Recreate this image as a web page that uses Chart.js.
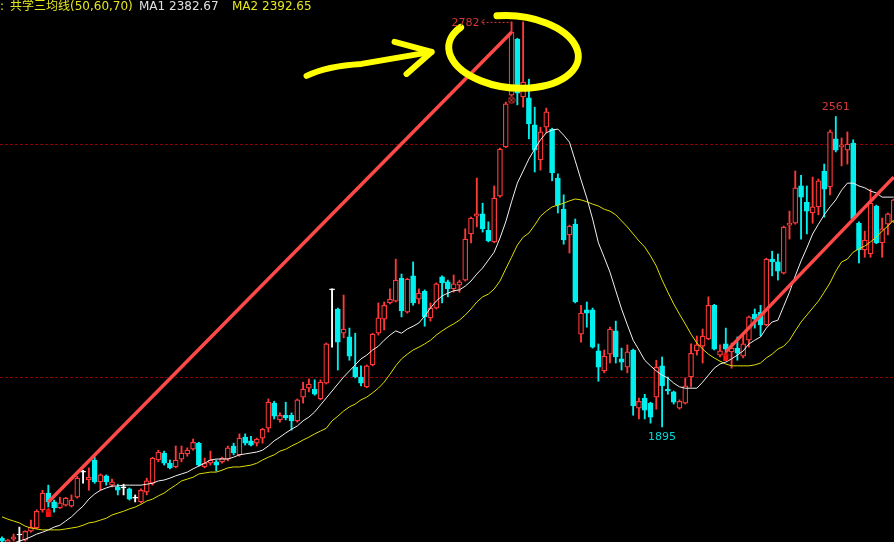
<!DOCTYPE html>
<html>
<head>
<meta charset="utf-8">
<title>共学三均线</title>
<script src="https://cdn.jsdelivr.net/npm/chart.js@4.4.1/dist/chart.umd.min.js"></script>
<style>
  html, body { margin: 0; padding: 0; background: #000; overflow: hidden; }
  #box { width: 894px; height: 542px; }
</style>
</head>
<body>
<div id="box"><canvas id="kline" width="894" height="542"></canvas></div>
<script>
// K线数据 (从图上读出来的, 大约值)
const opens = [1656,1648,1654,1663,1652,1671,1678,1717,1753,1734,
  1721,1727,1725,1744,1798,1781,1824,1777,1790,1770,
  1766,1764,1762,1742,1734,1755,1774,1824,1839,1817,
  1809,1826,1837,1847,1860,1809,1817,1820,1820,1826,
  1854,1835,1873,1865,1860,1871,1892,1946,1910,1920,
  1920,1908,1959,1978,1976,1955,1989,2189,2148,2096,
  2088,2023,2002,1981,2028,2096,2126,2161,2165,2214,
  2141,2219,2169,2186,2129,2150,2217,2206,2191,2199,
  2210,2309,2347,2352,2317,2292,2390,2496,2607,2727,
  2603,2601,2543,2468,2538,2534,2429,2362,2307,2330,
  2094,2146,2146,2058,2015,2051,2101,2041,2023,2060,
  1935,1957,1946,1959,2026,1976,1970,1935,1946,2002,
  2058,2068,2084,2156,2049,2073,2056,2064,2047,2081,
  2137,2141,2114,2255,2249,2225,2328,2332,2412,2377,
  2354,2367,2444,2410,2513,2496,2489,2504,2332,2275,
  2266,2369,2290,2330,2335];
const highs = [1659,1654,1665,1680,1672,1695,1717,1759,1770,1738,
  1744,1744,1749,1789,1802,1807,1830,1794,1792,1783,
  1772,1772,1764,1749,1762,1785,1830,1845,1843,1824,
  1854,1854,1850,1869,1862,1828,1843,1824,1830,1854,
  1860,1880,1880,1875,1871,1892,1955,1950,1925,1948,
  1925,1955,1991,1998,1996,1996,2075,2191,2150,2178,
  2107,2096,2026,2028,2096,2161,2163,2191,2255,2223,
  2214,2249,2191,2189,2161,2204,2219,2210,2221,2210,
  2320,2345,2429,2375,2335,2412,2493,2592,2764,2729,
  2764,2641,2581,2538,2579,2536,2438,2393,2328,2341,
  2156,2163,2150,2073,2060,2109,2122,2064,2071,2062,
  1957,1965,1948,2038,2045,2002,1972,1953,2000,2073,
  2090,2105,2174,2158,2071,2107,2075,2088,2092,2133,
  2148,2156,2257,2272,2266,2326,2358,2444,2435,2412,
  2431,2427,2459,2532,2561,2515,2528,2511,2335,2315,
  2405,2371,2343,2354,2384];
const lows = [1648,1646,1650,1641,1650,1669,1676,1712,1723,1712,
  1720,1725,1723,1742,1774,1759,1774,1759,1770,1766,
  1749,1749,1738,1734,1732,1749,1770,1820,1813,1805,
  1807,1820,1832,1845,1811,1807,1813,1800,1817,1822,
  1835,1832,1856,1854,1854,1860,1884,1912,1905,1910,
  1888,1905,1946,1970,1963,1953,1987,2066,2017,2086,
  2038,2000,1983,1979,2026,2092,2103,2159,2163,2131,
  2139,2156,2159,2111,2122,2148,2161,2174,2184,2184,
  2208,2290,2324,2313,2292,2290,2388,2494,2605,2586,
  2581,2513,2442,2446,2526,2423,2354,2287,2268,2161,
  2077,2109,2064,1993,2011,2032,2032,2017,2011,1920,
  1912,1912,1903,1933,1895,1965,1944,1933,1944,1981,
  2049,2032,2082,2060,2045,2053,2021,2038,2043,2066,
  2107,2090,2112,2219,2210,2223,2298,2330,2298,2309,
  2332,2350,2345,2393,2485,2455,2459,2339,2247,2259,
  2259,2288,2259,2307,2333];
const closes = [1650,1652,1659,1663,1671,1680,1714,1753,1734,1721,
  1732,1742,1738,1785,1798,1787,1777,1792,1777,1777,
  1759,1764,1740,1742,1759,1779,1828,1841,1817,1807,
  1824,1839,1845,1862,1813,1817,1824,1813,1828,1850,
  1839,1871,1860,1856,1869,1890,1948,1918,1920,1914,
  1908,1953,1976,1987,1965,1991,2073,2189,2077,2105,
  2047,2002,1989,2026,2094,2129,2156,2169,2210,2144,
  2212,2161,2182,2131,2150,2202,2204,2191,2202,2206,
  2298,2343,2352,2320,2294,2386,2491,2588,2742,2611,
  2635,2545,2489,2528,2571,2440,2371,2296,2326,2163,
  2139,2139,2066,2023,2047,2105,2045,2034,2056,1940,
  1950,1931,1916,2023,1983,1972,1948,1950,1983,2053,
  2071,2090,2156,2062,2058,2062,2064,2053,2073,2131,
  2126,2114,2255,2249,2229,2324,2332,2408,2388,2358,
  2367,2423,2405,2528,2489,2500,2502,2341,2275,2296,
  2375,2290,2320,2352,2382];

// 两条均线 (白 = MA1, 黄 = MA2)
const ma1 = [1637,1641,1646,1650,1654,1659,1665,1669,1674,1680,
  1684,1693,1702,1714,1725,1740,1751,1759,1764,1768,
  1768,1770,1770,1770,1770,1772,1774,1779,1781,1785,
  1790,1794,1798,1805,1811,1817,1824,1826,1826,1826,
  1830,1835,1837,1839,1841,1845,1854,1865,1873,1882,
  1890,1897,1908,1916,1927,1942,1957,1972,1987,2002,
  2015,2028,2041,2049,2060,2068,2081,2092,2101,2096,
  2105,2111,2118,2133,2150,2165,2176,2182,2187,2189,
  2197,2208,2223,2236,2253,2270,2300,2335,2378,2418,
  2444,2470,2491,2511,2526,2532,2534,2521,2506,2466,
  2425,2386,2341,2290,2259,2227,2187,2148,2114,2081,
  2060,2038,2026,2015,2006,2000,1989,1981,1978,1978,
  1978,1991,2006,2021,2030,2034,2041,2049,2058,2073,
  2081,2088,2107,2120,2124,2154,2184,2219,2251,2279,
  2309,2330,2350,2367,2382,2403,2418,2418,2412,2408,
  2401,2397,2388,2388,2388];
const ma2 = [1702,1697,1693,1689,1682,1678,1676,1674,1674,1674,
  1674,1676,1678,1680,1684,1689,1691,1695,1699,1706,
  1710,1714,1719,1723,1729,1736,1740,1747,1753,1762,
  1770,1779,1783,1787,1794,1796,1798,1798,1802,1807,
  1809,1809,1811,1813,1817,1824,1830,1835,1843,1847,
  1854,1860,1867,1873,1880,1886,1892,1908,1918,1929,
  1938,1944,1953,1959,1968,1978,1991,2008,2026,2041,
  2051,2060,2066,2073,2081,2092,2101,2109,2116,2124,
  2135,2148,2163,2174,2180,2191,2208,2234,2259,2285,
  2302,2311,2328,2347,2358,2367,2371,2375,2380,2384,
  2382,2378,2373,2369,2362,2358,2350,2337,2324,2309,
  2294,2281,2262,2240,2210,2184,2159,2137,2116,2094,
  2075,2062,2051,2043,2036,2030,2026,2026,2026,2026,
  2028,2032,2043,2051,2062,2068,2081,2101,2120,2135,
  2150,2165,2184,2204,2229,2249,2255,2270,2277,2283,
  2292,2302,2315,2326,2339];

const gridLevels = [2000, 2500];

// 手画的趋势线
const trend1Idx = [8, 88];
const trend1Val = [1734, 2742];
const trend2Idx = [125, 154];
const trend2Val = [2056, 2431];

// 买点标记 + 顶部的圈叉
const signalIdx = [8, 125];
const signalVal = [1712, 2047];
const peakMarkIdx = [88];
const peakMarkVal = [2596];

// 高低点标注
const peakIdx = 88, peakText = '2782';
const highIdx = 144, highText = '2561';
const lowIdx = 114, lowText = '1895';

const UP = '#ff3838';
const DOWN = '#00f0f0';
const FLAT = '#ffffff';
const YELLOW = '#e6e61e';

function candleColor(i) {
    if (closes[i] > opens[i]) return UP;
    if (closes[i] < opens[i]) return DOWN;
    return FLAT;
}

function makeHouse(color) {
    const c = document.createElement('canvas');
    c.width = 7; c.height = 9;
    const g = c.getContext('2d');
    g.fillStyle = color;
    g.beginPath();
    g.moveTo(3.5, 0); g.lineTo(7, 3.5); g.lineTo(0, 3.5);
    g.closePath(); g.fill();
    g.fillRect(1, 3.5, 5, 5.5);
    return c;
}

function makeCircleX(color) {
    const c = document.createElement('canvas');
    c.width = 8; c.height = 8;
    const g = c.getContext('2d');
    g.strokeStyle = color;
    g.lineWidth = 1;
    g.beginPath(); g.arc(4, 4, 3.2, 0, Math.PI * 2); g.stroke();
    g.beginPath();
    g.moveTo(2, 2); g.lineTo(6, 6);
    g.moveTo(6, 2); g.lineTo(2, 6);
    g.stroke();
    return c;
}

const idx = opens.map((_, i) => i);

// textes + gribouillis jaune
const notesPlugin = {
    id: 'notes',
    afterDatasetsDraw(chart) {
        const { ctx, scales: { x, y } } = chart;
        ctx.save();

        const px = x.getPixelForValue(peakIdx);
        const py = y.getPixelForValue(highs[peakIdx]);

        // le cercle jaune (ouvert en haut à gauche) et la flèche
        const deg = Math.PI / 180;
        ctx.strokeStyle = '#ffff00';
        ctx.lineCap = 'round';
        ctx.lineJoin = 'round';
        ctx.lineWidth = 7;
        ctx.beginPath();
        ctx.ellipse(px + 2, py + 30, 65, 36, 0.1, 252 * deg, 572 * deg);
        ctx.stroke();
        ctx.lineWidth = 6;
        ctx.beginPath();
        ctx.moveTo(px - 205, py + 54);
        ctx.quadraticCurveTo(px - 185, py + 44, px - 150, py + 42);
        ctx.lineTo(px - 80, py + 30);
        ctx.stroke();
        ctx.beginPath();
        ctx.moveTo(px - 117, py + 20);
        ctx.lineTo(px - 80, py + 30);
        ctx.lineTo(px - 105, py + 52);
        ctx.stroke();

        // en-tête
        ctx.font = '12px "DejaVu Sans", "Noto Sans CJK SC", sans-serif';
        ctx.textBaseline = 'middle';
        ctx.textAlign = 'left';
        ctx.fillStyle = YELLOW;
        ctx.fillText(':', 0, 7);
        ctx.fillText('共学三均线(50,60,70)', 10, 7);
        ctx.fillStyle = '#e0e0e0';
        ctx.fillText('MA1 2382.67', 139, 7);
        ctx.fillStyle = YELLOW;
        ctx.fillText('MA2 2392.65', 232, 7);

        // 2782 <-----
        ctx.font = '11px "DejaVu Sans", sans-serif';
        ctx.fillStyle = '#d23838';
        ctx.textAlign = 'right';
        ctx.fillText(peakText, px - 32, py + 1);
        ctx.strokeStyle = '#d23838';
        ctx.lineWidth = 1;
        ctx.lineCap = 'butt';
        ctx.beginPath();
        ctx.moveTo(px - 27, py - 3); ctx.lineTo(px - 30, py); ctx.lineTo(px - 27, py + 3);
        ctx.stroke();
        ctx.setLineDash([2, 2]);
        ctx.beginPath();
        ctx.moveTo(px - 29, py + 0.5); ctx.lineTo(px, py + 0.5);
        ctx.stroke();
        ctx.setLineDash([]);

        // 2561
        ctx.textAlign = 'center';
        ctx.fillText(highText, x.getPixelForValue(highIdx), y.getPixelForValue(highs[highIdx]) - 9);
        // 1895
        ctx.fillStyle = '#00d8d8';
        ctx.fillText(lowText, x.getPixelForValue(lowIdx), y.getPixelForValue(lows[lowIdx]) + 10);

        ctx.restore();
    }
};

const chart = new Chart(document.getElementById('kline').getContext('2d'), {
    type: 'bar',
    data: {
        datasets: [
            {
                type: 'line',
                label: 'trend1',
                data: trend1Idx.map((t, k) => ({ x: t, y: trend1Val[k] })),
                borderColor: '#ff4848',
                borderWidth: 3.5,
                pointRadius: 0,
                order: 0
            },
            {
                type: 'line',
                label: 'trend2',
                data: trend2Idx.map((t, k) => ({ x: t, y: trend2Val[k] })),
                borderColor: '#ff4848',
                borderWidth: 3.5,
                pointRadius: 0,
                order: 0
            },
            {
                type: 'line',
                label: 'signal',
                data: signalIdx.map((t, k) => ({ x: t, y: signalVal[k] })),
                showLine: false,
                pointStyle: makeHouse('#ff1010'),
                pointRadius: 4,
                order: 0
            },
            {
                type: 'line',
                label: 'peakMark',
                data: peakMarkIdx.map((t, k) => ({ x: t, y: peakMarkVal[k] })),
                showLine: false,
                pointStyle: makeCircleX('#e03030'),
                pointRadius: 4,
                order: 0
            },
            {
                type: 'line',
                label: 'MA1',
                data: idx.map(i => ({ x: i, y: ma1[i] })),
                borderColor: '#f0f0f0',
                borderWidth: 1,
                pointRadius: 0,
                order: 1
            },
            {
                type: 'line',
                label: 'MA2',
                data: idx.map(i => ({ x: i, y: ma2[i] })),
                borderColor: '#dede00',
                borderWidth: 1,
                pointRadius: 0,
                order: 1
            },
            {
                label: 'body',
                data: idx.map(i => ({ x: i, y: [opens[i], closes[i]] })),
                backgroundColor: c => (closes[c.dataIndex] > opens[c.dataIndex] ? '#000000' : candleColor(c.dataIndex)),
                borderColor: c => candleColor(c.dataIndex),
                borderWidth: 1.25,
                borderSkipped: false,
                barThickness: 5,
                minBarLength: 1,
                grouped: false,
                order: 2
            },
            {
                label: 'wick',
                data: idx.map(i => ({ x: i, y: [lows[i], highs[i]] })),
                backgroundColor: c => candleColor(c.dataIndex),
                borderWidth: 0,
                barThickness: 1.2,
                grouped: false,
                order: 3
            }
        ]
    },
    options: {
        responsive: false,
        animation: false,
        layout: { padding: 0, autoPadding: false },
        plugins: {
            legend: { display: false },
            tooltip: { enabled: false }
        },
        scales: {
            x: {
                type: 'linear',
                min: -0.345,
                max: 154.05,
                offset: false,
                display: false
            },
            y: {
                min: 1648,
                max: 2811,
                ticks: { display: false },
                grid: { color: '#8c0000', lineWidth: 1, drawTicks: false },
                border: { display: false, dash: [3, 2] },
                afterBuildTicks: axis => {
                    axis.ticks = gridLevels.map(v => ({ value: v }));
                }
            }
        }
    },
    plugins: [notesPlugin]
});
</script>
</body>
</html>
